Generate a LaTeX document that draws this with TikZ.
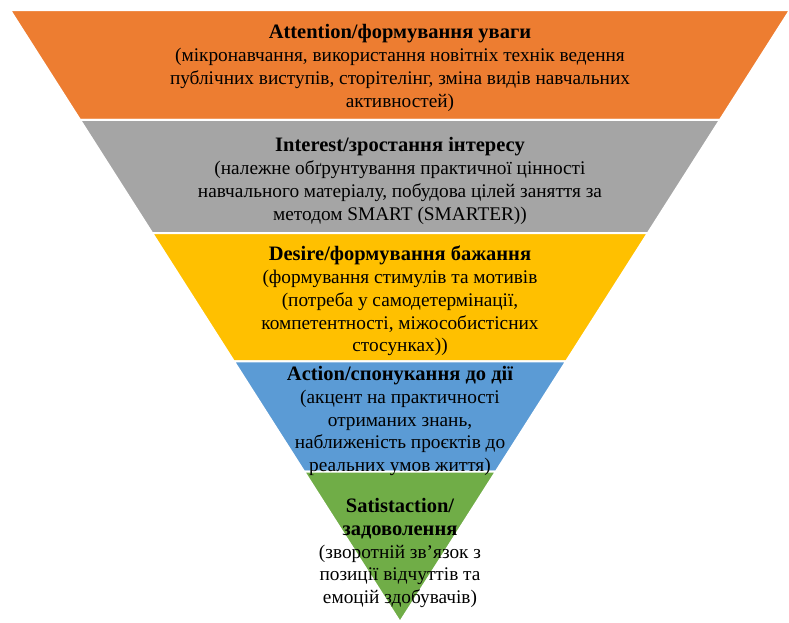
\documentclass[tikz,border=0pt]{standalone}
\usepackage{fontspec}
\setmainfont{Liberation Serif}
\usetikzlibrary{calc}
\definecolor{attncol}{HTML}{ED7D31}
\definecolor{intrcol}{HTML}{A5A5A5}
\definecolor{desrcol}{HTML}{FFC000}
\definecolor{actncol}{HTML}{5B9BD5}
\definecolor{satfcol}{HTML}{70AD47}
\newcommand{\hd}[1]{{\fontsize{20.5}{23}\selectfont\bfseries #1}}
\tikzset{
  band/.style={draw=white,line width=2pt},
  lbl/.style={align=center,inner sep=0pt}
}
\begin{document}
\begin{tikzpicture}[x=1pt,y=-1pt,font=\fontsize{19.3}{22.8}\selectfont]
				\useasboundingbox (0,0) rectangle (789,622);
				\coordinate (tl) at (10,10);
				\coordinate (tr) at (790,10);
				\coordinate (ap) at (400,622);
				\foreach \a/\b/\c in {0/0.1797/attncol,0.1797/0.3644/intrcol,0.3644/0.5743/desrcol,0.5743/0.7544/actncol,0.7544/1/satfcol}
					\filldraw[band,fill=\c] ($(tl)!\a!(ap)$) -- ($(tr)!\a!(ap)$) -- ($(tr)!\b!(ap)$) -- ($(tl)!\b!(ap)$) -- cycle;
				\node[lbl] (attn) at (400,68) {\hd{Attention/формування уваги}\\(мікронавчання, використання новітніх технік ведення\\публічних виступів, сторітелінг, зміна видів навчальних\\активностей)};
				\node[lbl] (intr) at (400,181) {\hd{Interest/зростання інтересу}\\(належне обґрунтування практичної цінності\\навчального матеріалу, побудова цілей заняття за\\методом SMART (SMARTER))};
				\node[lbl] (desr) at (400,301) {\hd{Desire/формування бажання}\\(формування стимулів та мотивів\\(потреба у самодетермінації,\\компетентності, міжособистісних\\стосунках))};
				\node[lbl] (actn) at (400,421) {\hd{Action/спонукання до дії}\\(акцент на практичності\\отриманих знань,\\наближеність проєктів до\\реальних умов життя)};
				\node[lbl] (satf) at (400,553) {\hd{Satistaction/}\\\hd{задоволення}\\(зворотній зв’язок з\\позиції відчуттів та\\емоцій здобувачів)};
			\end{tikzpicture}
\end{document}
